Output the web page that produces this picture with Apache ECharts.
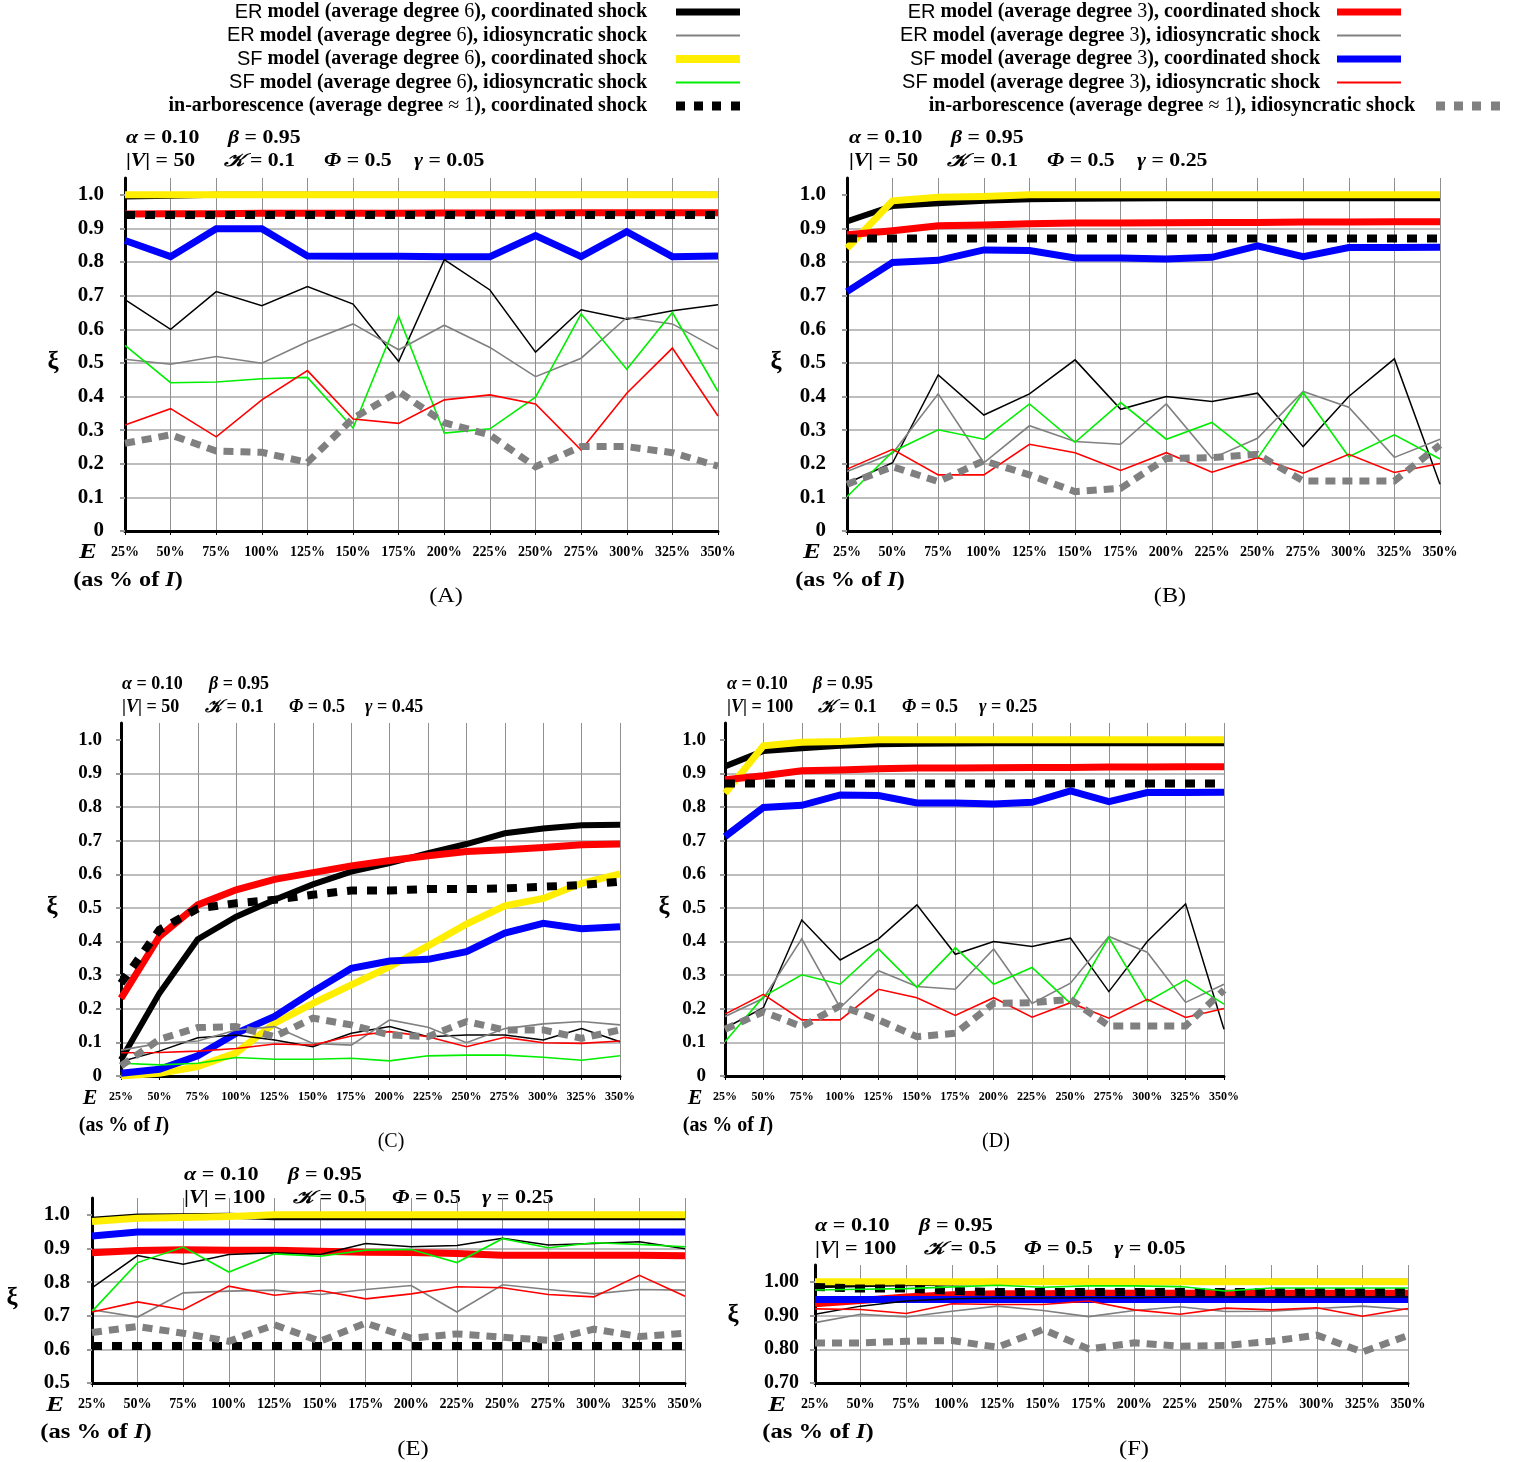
<!DOCTYPE html>
<html><head><meta charset="utf-8">
<script src="https://cdn.jsdelivr.net/npm/echarts@6/dist/echarts.min.js"></script>
<style>html,body{margin:0;padding:0;background:#fff}#c{width:1527px;height:1462px}</style>
</head><body><div id="c"></div><script>
// ---------------- DATA ----------------
const categories = ['25%','50%','75%','100%','125%','150%','175%','200%','225%','250%','275%','300%','325%','350%'];
const yTicksA = [0,0.1,0.2,0.3,0.4,0.5,0.6,0.7,0.8,0.9,1.0];
const yTicksE = [0.5,0.6,0.7,0.8,0.9,1.0];
const yTicksF = [0.7,0.8,0.9,1.0];

// Panel A
const A_er6c = [0.995,0.997,1,1,1,1,1,1,1,1,1,1,1,1];
const A_sf6c = [1,1,1,1,1,1,1,1,1,1,1,1,1,1];
const A_er3c = [0.943,0.944,0.944,0.945,0.945,0.945,0.945,0.946,0.946,0.946,0.947,0.947,0.947,0.947];
const A_sf3c = [0.864,0.816,0.899,0.899,0.818,0.817,0.817,0.816,0.816,0.879,0.816,0.890,0.816,0.818];
const A_arbc = [0.94,0.94,0.94,0.94,0.94,0.94,0.94,0.94,0.94,0.94,0.94,0.94,0.94,0.94];
const A_er6i = [0.688,0.600,0.712,0.670,0.727,0.675,0.504,0.807,0.717,0.532,0.658,0.630,0.655,0.673];
const A_er3i = [0.511,0.496,0.519,0.499,0.563,0.616,0.539,0.612,0.546,0.459,0.514,0.635,0.616,0.541];
const A_sf6i = [0.552,0.441,0.443,0.453,0.457,0.306,0.638,0.291,0.304,0.398,0.646,0.481,0.650,0.415];
const A_sf3i = [0.315,0.364,0.280,0.390,0.477,0.333,0.320,0.390,0.405,0.378,0.241,0.410,0.544,0.342];
const A_arbi = [0.261,0.286,0.238,0.234,0.204,0.335,0.415,0.322,0.286,0.191,0.251,0.251,0.233,0.193];

// Panel B (panel D shows the same curves)
const B_er6c = [0.921,0.967,0.975,0.982,0.987,0.988,0.989,0.99,0.99,0.99,0.99,0.99,0.99,0.99];
const B_sf6c = [0.841,0.982,0.993,0.995,1,1,1,1,1,1,1,1,1,1];
const B_er3c = [0.881,0.893,0.908,0.910,0.914,0.916,0.916,0.917,0.918,0.918,0.919,0.919,0.920,0.920];
const B_sf3c = [0.712,0.799,0.805,0.836,0.834,0.812,0.812,0.809,0.814,0.848,0.816,0.843,0.843,0.844];
const B_arbc = [0.87,0.87,0.87,0.87,0.87,0.87,0.87,0.87,0.87,0.87,0.87,0.87,0.87,0.87];
const B_er6i = [0.142,0.203,0.464,0.345,0.408,0.509,0.362,0.400,0.385,0.410,0.251,0.400,0.512,0.139];
const B_er3i = [0.177,0.231,0.408,0.203,0.313,0.266,0.258,0.378,0.216,0.276,0.415,0.368,0.219,0.273];
const B_sf6i = [0.102,0.236,0.301,0.273,0.378,0.264,0.382,0.273,0.323,0.216,0.412,0.221,0.286,0.214];
const B_sf3i = [0.184,0.243,0.167,0.167,0.258,0.233,0.180,0.233,0.175,0.218,0.172,0.228,0.174,0.201];
const B_arbi = [0.139,0.191,0.147,0.209,0.167,0.117,0.127,0.216,0.218,0.228,0.149,0.149,0.149,0.256];

// Panel C
const C_er6c = [0.048,0.246,0.407,0.474,0.524,0.570,0.608,0.633,0.663,0.690,0.722,0.736,0.746,0.747];
const C_sf6c = [0,0.008,0.028,0.069,0.157,0.216,0.271,0.325,0.387,0.452,0.506,0.528,0.573,0.601];
const C_er3c = [0.231,0.415,0.509,0.554,0.585,0.605,0.625,0.641,0.655,0.668,0.673,0.680,0.688,0.690];
const C_sf3c = [0.008,0.020,0.060,0.127,0.177,0.251,0.320,0.342,0.347,0.370,0.425,0.454,0.438,0.444];
const C_arbc = [0.276,0.435,0.498,0.514,0.524,0.539,0.552,0.552,0.556,0.556,0.558,0.563,0.568,0.578];
const C_er6i = [0.043,0.074,0.114,0.122,0.107,0.087,0.127,0.147,0.117,0.122,0.122,0.107,0.141,0.102];
const C_er3i = [0.077,0.097,0.104,0.137,0.147,0.097,0.092,0.167,0.145,0.099,0.141,0.155,0.162,0.152];
const C_sf6i = [0.038,0.033,0.038,0.055,0.050,0.050,0.053,0.045,0.060,0.062,0.062,0.056,0.047,0.060];
const C_sf3i = [0.069,0.070,0.074,0.082,0.095,0.092,0.119,0.132,0.117,0.087,0.115,0.099,0.097,0.104];
const C_arbi = [0.030,0.109,0.144,0.147,0.117,0.172,0.152,0.122,0.117,0.162,0.137,0.137,0.112,0.137];

// Panel E
const E_er6c = [0.985,0.995,0.996,0.997,0.993,0.993,0.993,0.993,0.993,0.993,0.993,0.993,0.993,0.993];
const E_sf6c = [0.980,0.990,0.992,0.995,1,1,1,1,1,1,1,1,1,1];
const E_er3c = [0.887,0.894,0.896,0.895,0.895,0.892,0.889,0.888,0.885,0.880,0.880,0.880,0.880,0.878];
const E_sf3c = [0.937,0.949,0.949,0.949,0.949,0.949,0.949,0.949,0.949,0.949,0.949,0.949,0.949,0.949];
const E_arbc = [0.61,0.61,0.61,0.61,0.61,0.61,0.61,0.61,0.61,0.61,0.61,0.61,0.61,0.61];
const E_er6i = [0.783,0.879,0.853,0.882,0.887,0.882,0.915,0.905,0.909,0.930,0.910,0.915,0.920,0.899];
const E_er3i = [0.718,0.696,0.768,0.773,0.776,0.763,0.778,0.790,0.711,0.792,0.778,0.765,0.778,0.776];
const E_sf6i = [0.713,0.858,0.904,0.830,0.884,0.877,0.895,0.897,0.858,0.929,0.902,0.917,0.912,0.905];
const E_sf3i = [0.711,0.741,0.718,0.788,0.761,0.775,0.750,0.765,0.786,0.783,0.763,0.756,0.820,0.758];
const E_arbi = [0.650,0.668,0.648,0.624,0.673,0.624,0.678,0.633,0.646,0.636,0.627,0.660,0.638,0.648];

// Panel F
const F_er6c = [0.99,0.993,0.996,0.998,1,1,1,1,1,1,1,1,1,1];
const F_sf6c = [1,1,1,1,1,1,1,1,1,1,1,1,1,1];
const F_er3c = [0.935,0.945,0.955,0.962,0.965,0.965,0.966,0.966,0.966,0.966,0.966,0.966,0.966,0.966];
const F_sf3c = [0.948,0.948,0.948,0.948,0.948,0.948,0.948,0.948,0.948,0.948,0.948,0.948,0.948,0.948];
const F_arbc = [0.985,0.980,0.980,0.973,0.970,0.970,0.970,0.970,0.970,0.970,0.970,0.970,0.970,0.970];
const F_er6i = [0.904,0.928,0.943,0.950,0.952,0.952,0.953,0.953,0.955,0.955,0.955,0.955,0.955,0.955];
const F_er3i = [0.879,0.904,0.896,0.913,0.928,0.915,0.897,0.915,0.926,0.912,0.913,0.921,0.928,0.918];
const F_sf6i = [0.976,0.978,0.980,0.985,0.990,0.984,0.988,0.988,0.986,0.973,0.982,0.982,0.982,0.982];
const F_sf3i = [0.920,0.918,0.906,0.935,0.933,0.933,0.943,0.917,0.904,0.922,0.917,0.923,0.898,0.921];
const F_arbi = [0.819,0.819,0.824,0.826,0.806,0.859,0.801,0.819,0.809,0.811,0.824,0.842,0.792,0.841];

// ---------------- NAMES / STYLES ----------------
const NAMES = {
  er6c: 'ER model (average degree 6), coordinated shock',
  er6i: 'ER model (average degree 6), idiosyncratic shock',
  sf6c: 'SF model (average degree 6), coordinated shock',
  sf6i: 'SF model (average degree 6), idiosyncratic shock',
  arbc: 'in-arborescence (average degree ≈ 1), coordinated shock',
  er3c: 'ER model (average degree 3), coordinated shock',
  er3i: 'ER model (average degree 3), idiosyncratic shock',
  sf3c: 'SF model (average degree 3), coordinated shock',
  sf3i: 'SF model (average degree 3), idiosyncratic shock',
  arbi: 'in-arborescence (average degree ≈ 1), idiosyncratic shock'
};
const STYLE = {
  er6c: {color:'#000000', width:6},
  sf6c: {color:'#ffee00', width:7},
  er3c: {color:'#ff0000', width:7},
  sf3c: {color:'#0000ff', width:7},
  arbc: {color:'#000000', width:8, type:[10,10]},
  er6i: {color:'#000000', width:1.5},
  er3i: {color:'#808080', width:1.6},
  sf6i: {color:'#00ee00', width:1.6},
  sf3i: {color:'#ff0000', width:1.6},
  arbi: {color:'#808080', width:7, type:[10,7]}
};
const ORDER = ['er6c','sf6c','er3c','sf3c','arbc','er6i','er3i','sf6i','sf3i','arbi'];

const panels = [
  {grid:{left:125, top:178, width:593, height:353}, ymin:0, ticks:yTicksA, dig:1, yf:21, ym:21, xf:14, xm:14,
   d:{er6c:A_er6c,sf6c:A_sf6c,er3c:A_er3c,sf3c:A_sf3c,arbc:A_arbc,er6i:A_er6i,er3i:A_er3i,sf6i:A_sf6i,sf3i:A_sf3i,arbi:A_arbi}},
  {grid:{left:847, top:178, width:593, height:353}, ymin:0, ticks:yTicksA, dig:1, yf:21, ym:21, xf:14, xm:14,
   d:{er6c:B_er6c,sf6c:B_sf6c,er3c:B_er3c,sf3c:B_sf3c,arbc:B_arbc,er6i:B_er6i,er3i:B_er3i,sf6i:B_sf6i,sf3i:B_sf3i,arbi:B_arbi}},
  {grid:{left:121, top:723, width:499, height:353}, ymin:0, ticks:yTicksA, dig:1, yf:19, ym:19, xf:12, xm:15,
   d:{er6c:C_er6c,sf6c:C_sf6c,er3c:C_er3c,sf3c:C_sf3c,arbc:C_arbc,er6i:C_er6i,er3i:C_er3i,sf6i:C_sf6i,sf3i:C_sf3i,arbi:C_arbi}},
  {grid:{left:725, top:723, width:499, height:353}, ymin:0, ticks:yTicksA, dig:1, yf:19, ym:19, xf:12, xm:15,
   d:{er6c:B_er6c,sf6c:B_sf6c,er3c:B_er3c,sf3c:B_sf3c,arbc:B_arbc,er6i:B_er6i,er3i:B_er3i,sf6i:B_sf6i,sf3i:B_sf3i,arbi:B_arbi}},
  {grid:{left:92, top:1198, width:593, height:185}, ymin:0.5, ticks:yTicksE, dig:1, yf:21, ym:22, xf:14, xm:14,
   d:{er6c:E_er6c,sf6c:E_sf6c,er3c:E_er3c,sf3c:E_sf3c,arbc:E_arbc,er6i:E_er6i,er3i:E_er3i,sf6i:E_sf6i,sf3i:E_sf3i,arbi:E_arbi}},
  {grid:{left:815, top:1265, width:593, height:118}, ymin:0.7, ticks:yTicksF, dig:2, yf:20, ym:16, xf:14, xm:14,
   d:{er6c:F_er6c,sf6c:F_sf6c,er3c:F_er3c,sf3c:F_sf3c,arbc:F_arbc,er6i:F_er6i,er3i:F_er3i,sf6i:F_sf6i,sf3i:F_sf3i,arbi:F_arbi}}
];

// text layout per panel: start x / y of parameter lines, x offsets of items, horizontal stretch
const texts = [
  {px:126, py:138, off:[102, 98, 198, 288], sx:1.21, V:'50',  K:'0.1', g:'0.05', xi:[53,363],  E:[88,552],   as:[128,581],  lab:[446,597],  L:'(A)'},
  {px:849, py:138, off:[102, 98, 198, 288], sx:1.21, V:'50',  K:'0.1', g:'0.25', xi:[776,363], E:[812,552],  as:[850,581],  lab:[1170,597], L:'(B)'},
  {px:122, py:684, off:[87, 83, 167, 243],  sx:1.0,  V:'50',  K:'0.1', g:'0.45', xi:[52,908],  E:[90,1098],  as:[124,1126], lab:[391,1142], L:'(C)'},
  {px:727, py:684, off:[86, 91, 175, 252],  sx:1.0,  V:'100', K:'0.1', g:'0.25', xi:[664,908], E:[695,1098], as:[728,1126], lab:[996,1142], L:'(D)'},
  {px:184, py:1175, off:[104, 109, 208, 298], sx:1.23, V:'100', K:'0.5', g:'0.25', xi:[12,1299], E:[55,1405],  as:[96,1433],  lab:[413,1450], L:'(E)'},
  {px:815, py:1226, off:[104, 109, 209, 299], sx:1.23, V:'100', K:'0.5', g:'0.05', xi:[733,1316], E:[777,1405], as:[818,1433], lab:[1134,1450], L:'(F)'}
];

// ---------------- BUILD ----------------
const SERIF = '"Liberation Serif","DejaVu Serif",serif';
const grid = [], xAxis = [], yAxis = [], series = [], graphic = [];
panels.forEach((p, i) => {
  grid.push(Object.assign({containLabel:false}, p.grid));
  xAxis.push({
    gridIndex:i, type:'category', data:categories, boundaryGap:false,
    axisLine:{show:true, onZero:false, lineStyle:{color:'#000', width:3}},
    axisTick:{show:true, interval:0, length:4, lineStyle:{color:'#000', width:1}},
    axisLabel:{interval:0, margin:p.xm, color:'#000', fontFamily:SERIF, fontWeight:'bold', fontSize:p.xf},
    splitLine:{show:true, interval:0, lineStyle:{color:'#909090', width:1}}
  });
  yAxis.push({
    gridIndex:i, type:'value', min:p.ymin, max:1.05, interval:0.1,
    axisLine:{show:true, onZero:false, lineStyle:{color:'#000', width:3}},
    axisTick:{show:true, length:5, customValues:p.ticks, lineStyle:{color:'#999', width:2}},
    axisLabel:{customValues:p.ticks, margin:p.ym, color:'#000', fontFamily:SERIF, fontWeight:'bold', fontSize:p.yf,
      formatter: v => (Math.abs(v) < 1e-9 ? '0' : v.toFixed(p.dig))},
    splitLine:{show:true, showMaxLine:false, lineStyle:{color:'#bdbdbd', width:2}}
  });
  ORDER.forEach(k => {
    const s = STYLE[k];
    series.push({
      name:NAMES[k], type:'line', xAxisIndex:i, yAxisIndex:i, data:p.d[k],
      symbol:'none', showSymbol:false, smooth:false, silent:true,
      lineStyle:{color:s.color, width:s.width, type:s.type || 'solid', cap:'butt', join:'miter'},
      itemStyle:{color:s.color}
    });
  });
});

const PF = 18;
const R = {
  i:{fontStyle:'italic', fontWeight:'bold', fontFamily:SERIF, fontSize:PF},
  b:{fontWeight:'bold', fontFamily:SERIF, fontSize:PF}
};
function ptxt(x, y, str, sx) {
  graphic.push({type:'text', x:x, y:y, scaleX:sx, style:{text:str, rich:R, verticalAlign:'middle', fill:'#000'}});
}
texts.forEach(t => {
  ptxt(t.px, t.py, '{i|α}{b| = 0.10}', t.sx);
  ptxt(t.px + t.off[0], t.py, '{i|β}{b| = 0.95}', t.sx);
  const y2 = t.py + 23;
  ptxt(t.px, y2, '{b||}{i|V}{b|| = ' + t.V + '}', t.sx);
  ptxt(t.px + t.off[1], y2, '{i|𝒦}{b| = ' + t.K + '}', t.sx);
  ptxt(t.px + t.off[2], y2, '{i|Φ}{b| = 0.5}', t.sx);
  ptxt(t.px + t.off[3], y2, '{i|γ}{b| = ' + t.g + '}', t.sx);
  graphic.push({type:'text', x:t.xi[0], y:t.xi[1], style:{text:'ξ', font:'bold 25px ' + SERIF, align:'center', verticalAlign:'middle', fill:'#000'}});
  graphic.push({type:'text', x:t.E[0], y:t.E[1], scaleX:t.sx, style:{text:'E', font:'italic bold 22px ' + SERIF, align:'center', verticalAlign:'middle', fill:'#000'}});
  graphic.push({type:'text', x:t.as[0], y:t.as[1], scaleX:t.sx, style:{text:'{b|(as % of }{i|I}{b|)}', rich:{b:{fontWeight:'bold', fontFamily:SERIF, fontSize:20}, i:{fontStyle:'italic', fontWeight:'bold', fontFamily:SERIF, fontSize:20}}, align:'center', verticalAlign:'middle', fill:'#000'}});
  graphic.push({type:'text', x:t.lab[0], y:t.lab[1], scaleX:t.sx, style:{text:t.L, font:'20px ' + SERIF, align:'center', verticalAlign:'middle', fill:'#000'}});
});

// legend icons (path shapes, drawn at natural size)
const ICON = {
  thick:'path://M0,0H64V7H0Z',
  thin:'path://M0,0H64V2H0Z',
  yellow:'path://M0,0H64V8H0Z',
  dots:'path://M0,0H9V9H0Z M18,0H27V9H18Z M36,0H45V9H36Z M55,0H64V9H55Z'
};
function li(k, icon, color) {
  return {name:NAMES[k], icon:ICON[icon], itemStyle:{color:color, borderWidth:0}};
}
function legendFmt(name) {
  return name.replace(/^(ER|SF) (.*)$/, '{s|$1} $2').replace(/degree (≈ )?(\d)\)/, 'degree {n|$1$2})');
}
const LF = 20;
const legendText = {
  color:'#000', fontFamily:SERIF, fontWeight:'bold', fontSize:LF, lineHeight:20,
  rich:{
    s:{fontFamily:'"Liberation Sans","DejaVu Sans",sans-serif', fontWeight:'normal', fontSize:LF, lineHeight:20},
    n:{fontFamily:SERIF, fontWeight:'normal', fontSize:LF, lineHeight:20}
  }
};
const legBase = {orient:'vertical', align:'right', itemWidth:64, itemHeight:14, itemGap:3.5, padding:0,
  symbolKeepAspect:true, formatter:legendFmt, selectedMode:false};
const legend = [
  Object.assign({}, legBase, {right:787, top:2, textStyle:Object.assign({}, legendText, {padding:[0,24,0,0]}),
    data:[li('er6c','thick','#000'), li('er6i','thin','#808080'), li('sf6c','yellow','#ffee00'), li('sf6i','thin','#00ee00'), li('arbc','dots','#000')]}),
  Object.assign({}, legBase, {right:126, top:2, textStyle:Object.assign({}, legendText, {padding:[0,12,0,0]}),
    data:[li('er3c','thick','#ff0000'), li('er3i','thin','#808080'), li('sf3c','thick','#0000ff'), li('sf3i','thin','#ff0000')]}),
  Object.assign({}, legBase, {right:27, top:96, textStyle:Object.assign({}, legendText, {padding:[0,16,0,0]}),
    data:[li('arbi','dots','#808080')]})
];

const chart = echarts.init(document.getElementById('c'), null, {renderer:'canvas'});
chart.setOption({
  animation:false, backgroundColor:'#ffffff',
  grid, xAxis, yAxis, series, legend, graphic
});
</script></body></html>
